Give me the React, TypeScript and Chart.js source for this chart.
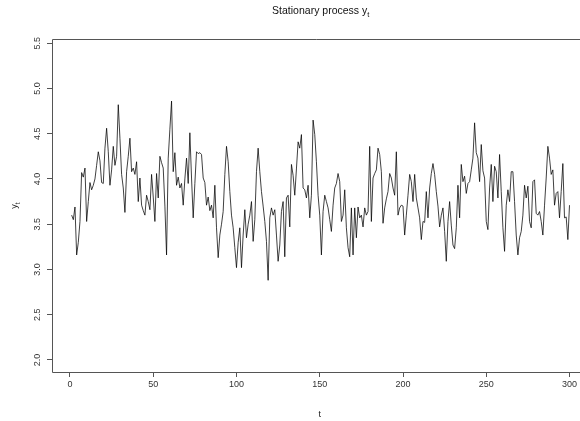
import React, { useEffect, useRef } from "react";
import { Chart, registerables } from "chart.js";

Chart.register(...registerables);

const TITLE = "Stationary process y";
const TITLE_SUB = "t";
const X_LABEL = "t";
const Y_LABEL = "y";
const Y_LABEL_SUB = "t";

const xTicks = [0, 50, 100, 150, 200, 250, 300];
const yTicks = [2.0, 2.5, 3.0, 3.5, 4.0, 4.5, 5.0, 5.5];
const yTickLabels = ["2.0", "2.5", "3.0", "3.5", "4.0", "4.5", "5.0", "5.5"];

// y_t values, t = 1..300
const y001to050 = [
  3.60, 3.55, 3.69, 3.16, 3.30, 3.53, 4.07, 4.02, 4.12, 3.53,
  3.75, 3.96, 3.88, 3.93, 4.00, 4.15, 4.30, 4.20, 3.96, 3.95,
  4.34, 4.56, 4.30, 3.93, 4.10, 4.36, 4.15, 4.25, 4.82, 4.45,
  4.05, 3.90, 3.63, 4.08, 4.25, 4.45, 4.08, 4.12, 4.05, 4.19,
  3.75, 4.01, 3.71, 3.65, 3.60, 3.82, 3.75, 3.66, 4.05, 3.80,
];
const y051to100 = [
  3.53, 4.06, 3.79, 4.25, 4.18, 4.12, 3.70, 3.16, 4.23, 4.55,
  4.86, 4.08, 4.29, 3.93, 4.02, 3.90, 3.95, 3.71, 4.00, 4.23,
  3.95, 4.51, 4.01, 3.57, 3.95, 4.30, 4.28, 4.29, 4.27, 4.01,
  3.96, 3.71, 3.80, 3.65, 3.71, 3.57, 3.93, 3.46, 3.13, 3.38,
  3.50, 3.64, 4.05, 4.36, 4.19, 3.86, 3.60, 3.46, 3.24, 3.02,
];
const y101to150 = [
  3.30, 3.46, 3.02, 3.38, 3.66, 3.35, 3.50, 3.60, 3.75, 3.31,
  3.55, 4.08, 4.34, 4.08, 3.86, 3.70, 3.53, 3.31, 2.88, 3.57,
  3.68, 3.60, 3.66, 3.38, 3.09, 3.27, 3.64, 3.75, 3.14, 3.79,
  3.82, 3.47, 4.16, 4.04, 3.82, 4.11, 4.41, 4.34, 4.49, 3.90,
  3.88, 3.79, 3.93, 3.57, 3.82, 4.65, 4.49, 4.19, 3.82, 3.60,
];
const y151to200 = [
  3.16, 3.64, 3.82, 3.75, 3.68, 3.55, 3.42, 3.71, 3.90, 3.95,
  4.06, 3.97, 3.53, 3.60, 3.88, 3.46, 3.24, 3.14, 3.68, 3.16,
  3.68, 3.35, 3.69, 3.57, 3.60, 3.47, 3.68, 3.60, 3.64, 4.36,
  3.53, 4.01, 4.06, 4.10, 4.34, 4.27, 4.08, 3.51, 3.68, 3.78,
  3.86, 4.06, 4.01, 3.90, 3.82, 4.30, 3.60, 3.68, 3.71, 3.70,
];
const y201to250 = [
  3.38, 3.60, 3.82, 4.05, 3.97, 3.75, 4.05, 3.79, 3.68, 3.57,
  3.33, 3.53, 3.52, 3.86, 3.57, 3.90, 4.06, 4.17, 4.05, 3.86,
  3.70, 3.47, 3.60, 3.68, 3.42, 3.09, 3.53, 3.75, 3.49, 3.27,
  3.23, 3.46, 3.93, 3.57, 4.16, 3.97, 4.03, 3.84, 3.95, 3.97,
  4.10, 4.23, 4.62, 4.29, 4.23, 3.97, 4.38, 4.09, 4.01, 3.53,
];
const y251to300 = [
  3.44, 3.90, 4.16, 3.75, 4.14, 4.08, 3.79, 4.27, 3.86, 3.46,
  3.20, 3.71, 3.88, 3.75, 4.08, 4.08, 3.75, 3.38, 3.16, 3.35,
  3.42, 3.60, 3.93, 3.79, 3.92, 3.53, 3.46, 3.97, 3.99, 3.62,
  3.60, 3.64, 3.53, 3.38, 3.71, 4.01, 4.36, 4.23, 4.05, 4.10,
  3.71, 3.84, 3.86, 3.57, 3.86, 4.17, 3.57, 3.58, 3.33, 3.71,
];

const FONT = "'Liberation Sans', Arimo, Arial, sans-serif";

const rPlugin = {
  id: "rDecor",
  afterDraw(chart: any) {
    const { ctx, chartArea, scales } = chart;
    ctx.save();
    // box (right side lies outside the canvas)
    ctx.strokeStyle = "#555";
    ctx.lineWidth = 1;
    const l = Math.round(chartArea.left) + 0.5;
    const t = Math.round(chartArea.top) + 0.5;
    const b = Math.round(chartArea.bottom) + 0.5;
    ctx.beginPath();
    ctx.moveTo(chart.width + 10, t);
    ctx.lineTo(l, t);
    ctx.lineTo(l, b);
    ctx.lineTo(chart.width + 10, b);
    ctx.stroke();

    // y tick labels, rotated
    ctx.fillStyle = "#333";
    ctx.font = `9px ${FONT}`;
    ctx.textAlign = "center";
    ctx.textBaseline = "alphabetic";
    yTicks.forEach((v, i) => {
      const py = scales.y.getPixelForValue(v);
      ctx.save();
      ctx.translate(40, py);
      ctx.rotate(-Math.PI / 2);
      ctx.fillText(yTickLabels[i], 0, 0);
      ctx.restore();
    });

    // y axis title with subscript
    ctx.save();
    const yMid = (chartArea.top + chartArea.bottom) / 2;
    ctx.translate(17, yMid);
    ctx.rotate(-Math.PI / 2);
    ctx.font = `9px ${FONT}`;
    const wY = ctx.measureText(Y_LABEL).width;
    ctx.font = `6.5px ${FONT}`;
    const wS = ctx.measureText(Y_LABEL_SUB).width;
    const start = -(wY + wS) / 2;
    ctx.textAlign = "left";
    ctx.font = `9px ${FONT}`;
    ctx.fillStyle = "#222";
    ctx.fillText(Y_LABEL, start, 0);
    ctx.font = `6.5px ${FONT}`;
    ctx.fillText(Y_LABEL_SUB, start + wY, 2.5);
    ctx.restore();

    // x axis title
    ctx.font = `9px ${FONT}`;
    ctx.fillStyle = "#222";
    ctx.textAlign = "center";
    ctx.fillText(X_LABEL, scales.x.getPixelForValue(150), 417);

    // main title with subscript
    ctx.font = `10.5px ${FONT}`;
    const wT = ctx.measureText(TITLE).width;
    ctx.font = `7.5px ${FONT}`;
    const wTs = ctx.measureText(TITLE_SUB).width;
    const cx = (chartArea.left + scales.x.getPixelForValue(311.96)) / 2;
    const sx = cx - (wT + wTs) / 2;
    ctx.textAlign = "left";
    ctx.fillStyle = "#111";
    ctx.font = `10.5px ${FONT}`;
    ctx.fillText(TITLE, sx, 14);
    ctx.font = `7.5px ${FONT}`;
    ctx.fillText(TITLE_SUB, sx + wT, 16.5);
    ctx.restore();
  },
};

export default function App() {
  const ref = useRef<HTMLCanvasElement | null>(null);

  useEffect(() => {
    if (!ref.current) return;
    const values = [
      ...y001to050,
      ...y051to100,
      ...y101to150,
      ...y151to200,
      ...y201to250,
      ...y251to300,
    ];
    const points = values.map((v, i) => ({ x: i + 1, y: v }));
    const chart = new Chart(ref.current, {
      type: "line",
      data: {
        datasets: [
          {
            data: points,
            borderColor: "#000",
            borderWidth: 0.75,
            pointRadius: 0,
            tension: 0,
            fill: false,
          },
        ],
      },
      options: {
        animation: false,
        responsive: false,
        devicePixelRatio: 1,
        events: [],
        layout: { padding: { top: 39, left: 0, right: 0, bottom: 0 } },
        plugins: {
          legend: { display: false },
          title: { display: false },
          tooltip: { enabled: false },
        },
        scales: {
          x: {
            type: "linear",
            min: -10.8,
            max: 306.3,
            afterBuildTicks: (s: any) => {
              s.ticks = xTicks.map((v) => ({ value: v }));
            },
            afterFit: (s: any) => {
              s.height = 49;
            },
            border: { display: false },
            grid: {
              display: true,
              drawOnChartArea: false,
              drawTicks: true,
              tickLength: 5,
              color: "#555",
            },
            ticks: {
              autoSkip: false,
              maxRotation: 0,
              minRotation: 0,
              padding: 2,
              color: "#333",
              font: { family: FONT, size: 9 },
            },
          },
          y: {
            type: "linear",
            min: 1.867,
            max: 5.546,
            afterBuildTicks: (s: any) => {
              s.ticks = yTicks.map((v) => ({ value: v }));
            },
            afterFit: (s: any) => {
              s.width = 52;
            },
            border: { display: false },
            grid: {
              display: true,
              drawOnChartArea: false,
              drawTicks: true,
              tickLength: 5,
              color: "#555",
            },
            ticks: { display: false },
          },
        },
      },
      plugins: [rPlugin],
    });
    return () => chart.destroy();
  }, []);

  return (
    <div
      style={{
        position: "fixed",
        left: 0,
        top: 0,
        width: 580,
        height: 421,
        background: "#fff",
        overflow: "hidden",
      }}
    >
      <canvas ref={ref} width={580} height={421} style={{ display: "block" }} />
    </div>
  );
}
